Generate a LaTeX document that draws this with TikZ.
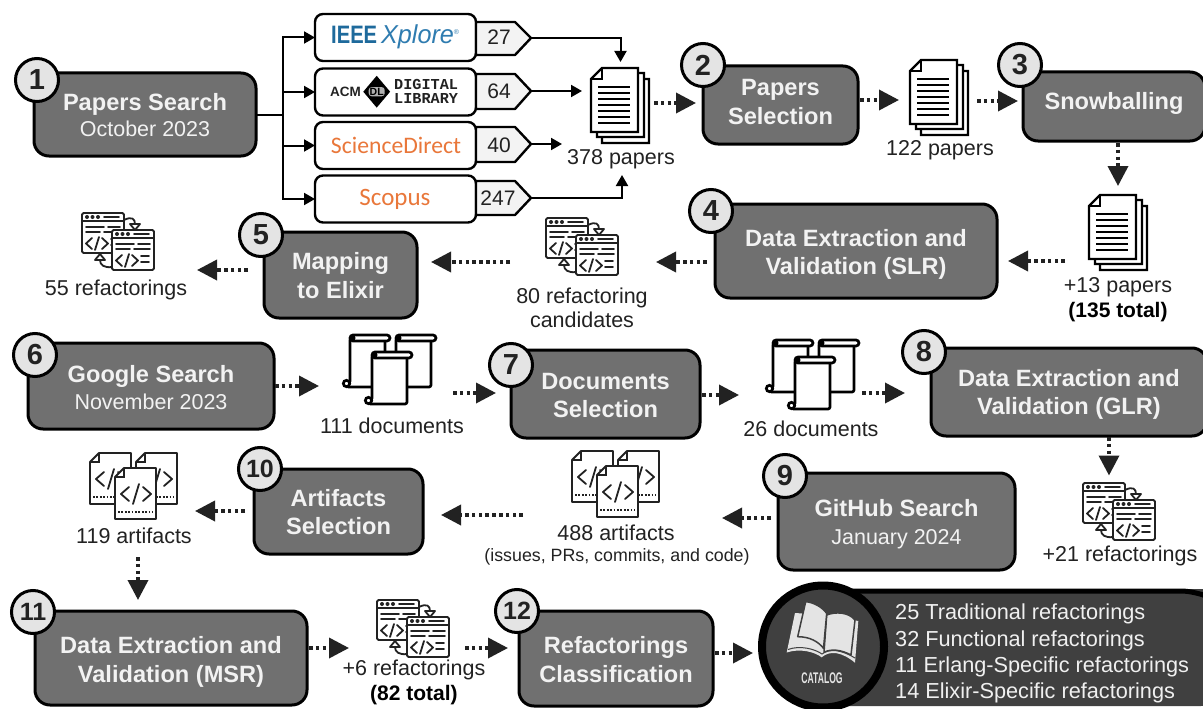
\documentclass[tikz,border=0pt]{standalone}
\usepackage{fontspec}
\usepackage{graphicx}
\setmainfont{Liberation Sans}
\newfontfamily\carlito{Carlito}
\newfontfamily\libmono{Liberation Mono}
\usetikzlibrary{arrows.meta,shapes.geometric,calc}
\definecolor{boxgray}{HTML}{707070}
\definecolor{circgray}{HTML}{E4E4E4}
\definecolor{catdark}{HTML}{404040}
\definecolor{tagfill}{HTML}{F3F3F3}
\definecolor{sciorange}{HTML}{E9773A}
\definecolor{ieeeblue}{HTML}{1E6A9C}
\definecolor{xpblue}{HTML}{2F7CB0}
\definecolor{inkgray}{HTML}{222222}
\newcommand{\fs}[1]{\fontsize{#1}{#1}\selectfont}
\newcommand{\tl}[2]{\raisebox{#1pt}[0pt][0pt]{\begin{tabular}[c]{@{}c@{}}#2\end{tabular}}}
\tikzset{
  x=1pt,y=-1pt,
  stepbox/.style n args={2}{draw=black,line width=3pt,fill=boxgray,rounded corners=15pt,
    minimum width=#1pt,minimum height=#2pt,inner sep=0pt,outer sep=0pt,text=white!95!black,
    align=center,font=\fs{23.6}\bfseries},
  numcirc/.style={circle,draw=black,line width=3pt,fill=circgray,minimum size=43pt,inner sep=0pt,
    font=\fs{29}\bfseries,text=inkgray},
  srcbox/.style={draw=black,line width=2.4pt,fill=white,rounded corners=8pt,minimum width=161pt,
    minimum height=47pt,inner sep=0pt,outer sep=0pt},
  tagshape/.style={draw=black,line width=2.4pt,fill=tagfill,line join=round},
  tagnum/.style={font=\fs{21},text=inkgray,inner sep=0pt},
  lbl/.style={font=\fs{21.5},text=inkgray,inner sep=0pt,align=center},
  lblb/.style={font=\fs{21}\bfseries,text=black,inner sep=0pt,align=center},
  catline/.style={anchor=west,inner sep=0pt,text=white!94!black,font=\fs{21.7}},
  anchorbox/.style n args={2}{minimum width=#1pt,minimum height=#2pt,inner sep=0pt,outer sep=0pt},
  thinarrow/.style={draw=black,line width=2pt,-{Triangle[length=11pt,width=12pt]}},
  dotarrow/.style={draw=inkgray,line width=3.6pt,dash pattern=on 3.6pt off 3.2pt,
    -{Triangle[length=20pt,width=20pt]}},
  iconl/.style={draw=inkgray,line width=1.8pt,line cap=round,line join=round},
  paperstack/.pic={
    \foreach \d/\e in {11/11,6/5,0/0}{
      \path[draw=black,line width=2.3pt,fill=white,line join=miter]
        ($(11,0)+(\d,\e)$) -- ($(47,0)+(\d,\e)$) -- ($(47,64)+(\d,\e)$) -- ($(0,64)+(\d,\e)$) -- ($(0,11)+(\d,\e)$) -- cycle;
    }
    \draw[black,line width=2.3pt] (11,0) -- (11,11) -- (0,11);
    \foreach \yy in {19,25,31,37,43,49,55}{\draw[black,line width=2pt] (7,\yy) -- (39,\yy);}
  },
  codewin/.pic={
    \draw[iconl,fill=white,rounded corners=1.5pt] (0,0) rectangle (42,40);
    \draw[iconl] (0,8) -- (42,8);
    \foreach \q in {5,10.5,16}{\fill[inkgray] (\q,4) circle (2pt);}
    \draw[iconl] (22,4) -- (37,4);
    \draw[iconl] (4,14) -- (22,14) (26,14) -- (38,14) (4,19) -- (18,19) (22,19) -- (38,19);
    \draw[iconl] (10,25) -- (4,30.5) -- (10,36) (17,24) -- (13,37) (20,25) -- (26,30.5) -- (20,36);
    \draw[iconl] (29,26) -- (37,26) (29,32) -- (37,32);
  },
  refactor/.pic={
    \draw[iconl] (42,7) .. controls (50,3) and (53,6) .. (53,11);
    \draw[iconl,fill=white] (48,11) -- (58,11) -- (53,17) -- cycle;
    \pic at (0,0) {codewin};
    \draw[iconl] (30,54) .. controls (22,55) and (18,52) .. (18,47);
    \draw[iconl,fill=white] (13,47) -- (23,47) -- (18,41) -- cycle;
    \pic at (30,17) {codewin};
  },
  scrollone/.pic={
    \path[draw=black,line width=2.7pt,fill=white,line join=round,rounded corners=2pt] (7,3) -- (42,3) -- (42,52) -- (3.5,52) -- (7,48) -- cycle;
    \draw[black,line width=2.7pt,fill=white,rounded corners=3pt] (7,0) rectangle (47,6);
    \fill[black] (9.5,3) circle (3pt);
    \draw[black,line width=2.7pt,fill=white] (3.5,48.5) circle (3.2pt);
  },
  scrolls/.pic={
    \pic at (0,0) {scrollone};
    \pic at (46,0) {scrollone};
    \pic at (22,17) {scrollone};
  },
  codefile/.pic={
    \path[draw=inkgray,line width=1.8pt,fill=white,line join=round] (9,0) -- (41,0) -- (41,51) -- (0,51) -- (0,9) -- cycle;
    \draw[inkgray,line width=1.8pt] (9,0) -- (9,9) -- (0,9);
    \draw[iconl] (14,19) -- (6,26) -- (14,33) (24,16) -- (18,36) (28,19) -- (36,26) -- (28,33);
    \draw[inkgray,line width=1.8pt,dash pattern=on 1.8pt off 1.6pt] (3,44) -- (38,44);
  },
  artifacts/.pic={
    \pic at (0,0) {codefile};
    \pic at (46,0) {codefile};
    \pic at (25,15) {codefile};
  }
}
\begin{document}
\begin{tikzpicture}
\clip (0,0) rectangle (1203,709);
\fill[white] (0,0) rectangle (1203,709);

% ---- catalog
\fill[catdark,rounded corners=14pt] (800,589) rectangle (1215,706);
\draw[black,line width=5pt,rounded corners=14pt] (800,591) -- (1195,591) -- (1215,600);
\node[circle,draw=black,line width=8pt,fill=catdark,minimum size=122pt,inner sep=0pt,outer sep=4pt] (catalog) at (823,646.5) {};
\fill[circgray] (795,613) -- (786.7,652.5) .. controls (800,648) and (815,652) .. (821.7,657.3) .. controls (830,650) and (842,652) .. (855,662.7) -- (858.3,621) -- (825,615) -- cycle;
\path[fill=circgray,draw=catdark,line width=1.5pt,line join=round] (826.7,615) .. controls (835,611.7) and (848.3,611.7) .. (855,620) -- (851,655) .. controls (841.7,650) and (831.7,648.3) .. (824,652.3) -- cycle;
\path[fill=circgray,draw=catdark,line width=1.5pt,line join=round] (805.7,601.7) .. controls (813.3,602.3) and (821.7,606.7) .. (826.7,613.3) -- (823.5,648.3) .. controls (818.3,641.7) and (810,636.7) .. (797.7,636.7) -- cycle;
\draw[catdark,line width=1pt] (788,649.5) .. controls (800,645) and (815,649) .. (822,654) .. controls (830,648) and (842,650) .. (855,658);
\node[inner sep=0pt,text=circgray] (cattext) at (822,678.5) {\scalebox{0.56}[1]{\fs{15.4}\bfseries CATALOG}};
\node[catline] (cat1) at (895,614) {25 Traditional refactorings};
\node[catline] (cat2) at (895,640.5) {32 Functional refactorings};
\node[catline] (cat3) at (895,667) {11 Erlang-Specific refactorings};
\node[catline] (cat4) at (895,692.5) {14 Elixir-Specific refactorings};

% ---- step boxes
\node[stepbox={222}{83}] (s1) at (145,114.5) {\tl{-10.5}{Papers Search\\[2.4pt]\fs{21.5}\mdseries October 2023}};
\node[stepbox={155}{78}] (s2) at (780.5,105) {\tl{-6.5}{Papers\\[4.4pt]Selection}};
\node[stepbox={182}{69}] (s3) at (1114,106.5) {\tl{-4.5}{Snowballing}};
\node[stepbox={282}{94}] (s4) at (856,251) {\tl{-10.5}{Data Extraction and\\[4.4pt]Validation (SLR)}};
\node[stepbox={153}{86}] (s5) at (340.5,275) {\tl{-10}{Mapping\\[4.4pt]to Elixir}};
\node[stepbox={246}{86}] (s6) at (151,386) {\tl{-11.5}{Google Search\\[3.4pt]\fs{21.5}\mdseries November 2023}};
\node[stepbox={189}{88}] (s7) at (605.5,394) {\tl{-11}{Documents\\[4.4pt]Selection}};
\node[stepbox={276}{88}] (s8) at (1069,392) {\tl{-9.5}{Data Extraction and\\[4.4pt]Validation (GLR)}};
\node[stepbox={237}{97}] (s9) at (896.5,521.5) {\tl{-10.5}{GitHub Search\\[4.4pt]\fs{21.5}\mdseries January 2024}};
\node[stepbox={169}{85}] (s10) at (338.5,511.5) {\tl{-10}{Artifacts\\[4.4pt]Selection}};
\node[stepbox={272}{94}] (s11) at (171,658) {\tl{-11}{Data Extraction and\\[4.4pt]Validation (MSR)}};
\node[stepbox={194}{95}] (s12) at (616,658.5) {\tl{-10.5}{Refactorings\\[4.4pt]Classification}};

% ---- numbers
\node[numcirc] (n1) at (37,80) {1};
\node[numcirc] (n2) at (703,65) {2};
\node[numcirc] (n3) at (1020,65) {3};
\node[numcirc] (n4) at (711,211) {4};
\node[numcirc] (n5) at (261,235) {5};
\node[numcirc] (n6) at (35,355) {6};
\node[numcirc] (n7) at (511,365) {7};
\node[numcirc] (n8) at (924,352) {8};
\node[numcirc] (n9) at (785,476) {9};
\node[numcirc,font=\fs{25}\bfseries] (n10) at (260,469) {10};
\node[numcirc,font=\fs{25}\bfseries] (n11) at (33,612) {11};
\node[numcirc,font=\fs{25}\bfseries] (n12) at (517,611) {12};

% ---- sources
\node[srcbox] (ieee) at (395.5,37.5) {};
\node[srcbox] (acm) at (395.5,92) {};
\node[srcbox] (sd) at (395.5,145.5) {};
\node[srcbox] (scopus) at (395.5,199) {};
\node[inner sep=0pt,anchor=west] (ieeetxt) at (331,37) {\color{ieeeblue}\scalebox{0.84}[1.05]{\fs{24}\bfseries IEEE}\hspace{4pt}\color{xpblue}\scalebox{1.05}[1.08]{\fs{24}\itshape Xplore}\raisebox{9pt}{\fs{7}®}};
\node[inner sep=0pt,anchor=west,font=\fs{13.5}\bfseries,text=inkgray] (acmtxt) at (330,91.5) {ACM};
\node[diamond,fill=black,minimum width=27pt,minimum height=32pt,inner sep=0pt] (dl) at (376.7,91.7) {};
\node[inner sep=1pt,fill=boxgray!55,font=\fs{10.5}\bfseries,text=black,rounded corners=3pt] (dltxt) at (376.7,91.7) {DL};
\node[inner sep=0pt,anchor=west,align=left,font=\fs{15.2}\libmono\bfseries,text=inkgray] (dltxt2) at (394,91.5) {DIGITAL\\[-1.5pt]LIBRARY};
\node[inner sep=0pt,font=\fs{23.7}\carlito,text=sciorange] (sdtxt) at (396,145) {ScienceDirect};
\node[inner sep=0pt,font=\fs{25}\carlito,text=sciorange] (scopustxt) at (395,199) {Scopus};

% ---- tags
\coordinate (t1) at (531,38);
\coordinate (t2) at (531,91);
\coordinate (t3) at (531,144);
\coordinate (t4) at (531,198);
\path[tagshape] (476,22) -- (515,22) -- (531,38) -- (515,55) -- (476,55) -- cycle;
\path[tagshape] (476,74) -- (515,74) -- (531,91) -- (515,109) -- (476,109) -- cycle;
\path[tagshape] (476,127) -- (515,127) -- (531,144) -- (515,162) -- (476,162) -- cycle;
\path[tagshape] (476,181) -- (515,181) -- (531,198) -- (515,215) -- (476,215) -- cycle;
\node[tagnum] (c27) at (499,37) {27};
\node[tagnum] (c64) at (499,91) {64};
\node[tagnum] (c40) at (499,145) {40};
\node[tagnum] (c247) at (498,198) {247};

% ---- icons (named anchor nodes over the pics)
\pic at (591,68) {paperstack};
\node[anchorbox={59}{75}] (p378) at (620.5,105.5) {};
\pic at (910,60) {paperstack};
\node[anchorbox={59}{75}] (p122) at (939.5,97.5) {};
\pic at (1089,195) {paperstack};
\node[anchorbox={59}{75}] (p135) at (1118.5,232.5) {};
\pic at (82,213) {refactor};
\node[anchorbox={72}{57}] (r55) at (118,241) {};
\pic at (546,218) {refactor};
\node[anchorbox={72}{57}] (r80) at (582,246) {};
\pic at (1083,483) {refactor};
\node[anchorbox={72}{57}] (r21) at (1119,511) {};
\pic at (377,600) {refactor};
\node[anchorbox={72}{57}] (r82) at (413,628) {};
\pic at (343,335) {scrolls};
\node[anchorbox={94}{70}] (d111) at (390,370) {};
\pic at (766,340) {scrolls};
\node[anchorbox={94}{70}] (d26) at (815,375) {};
\pic at (572,451) {artifacts};
\node[anchorbox={88}{66}] (a488) at (616,484) {};
\pic at (90,453) {artifacts};
\node[anchorbox={88}{66}] (a119) at (134,486) {};

% ---- labels
\node[lbl] (l378) at (621,159) {378 papers};
\node[lbl] (l122) at (940,150) {122 papers};
\node[lbl] (l135) at (1118,287) {+13 papers};
\node[lblb] (l135b) at (1118,312) {(135 total)};
\node[lbl] (l80) at (582,308) {80 refactoring\\[3pt]candidates};
\node[lbl] (l55) at (116,290) {55 refactorings};
\node[lbl] (l111) at (392,426) {111 documents};
\node[lbl] (l26) at (811,429) {26 documents};
\node[lbl] (l21) at (1120,556) {+21 refactorings};
\node[lbl] (l488) at (616,533) {488 artifacts};
\node[lbl,font=\fs{17.8}] (l488b) at (617,557) {(issues, PRs, commits, and code)};
\node[lbl] (l119) at (134,536) {119 artifacts};
\node[lbl] (l82) at (414,670) {+6 refactorings};
\node[lblb] (l82b) at (414,695) {(82 total)};

% ---- solid connectors
\draw[black,line width=2pt] (s1.east |- 0,115) -- (283,115);
\draw[thinarrow] (283,115) |- (ieee.west);
\draw[thinarrow] (283,115) |- (acm.west);
\draw[thinarrow] (283,115) |- (sd.west);
\draw[thinarrow] (283,115) |- (scopus.west);
\draw[thinarrow] (t1) -| ($(p378.north)+(0,-6)$);
\draw[thinarrow] (t2) -- (582,91);
\draw[thinarrow] (t3) -- (562,144);
\draw[thinarrow] (t4) -| (622,175);

% ---- dotted connectors
\draw[dotarrow,shorten <=4pt,shorten >=7pt] (p378.east |- 0,103) -- (s2.west |- 0,103);
\draw[dotarrow,shorten <=2pt,shorten >=11pt] (s2.east |- 0,100) -- (p122.west |- 0,100);
\draw[dotarrow,shorten <=8pt,shorten >=5pt] (p122.east |- 0,101) -- (s3.west |- 0,101);
\draw[dotarrow,shorten <=2pt,shorten >=9pt] (s3.south -| 1118,0) -- (p135.north -| 1118,0);
\draw[dotarrow,shorten <=24pt,shorten >=11pt] (p135.west |- 0,261) -- (s4.east |- 0,261);
\draw[dotarrow,shorten <=8pt,shorten >=38pt] (s4.west |- 0,262) -- (r80.east |- 0,262);
\draw[dotarrow,shorten <=36pt,shorten >=14pt] (r80.west |- 0,262) -- (s5.east |- 0,262);
\draw[dotarrow,shorten <=16pt,shorten >=43pt] (s5.west |- 0,270) -- (r55.east |- 0,270);
\draw[dotarrow,shorten <=1pt,shorten >=24pt] (s6.east |- 0,386) -- (d111.west |- 0,386);
\draw[dotarrow,shorten <=16pt,shorten >=15pt] (d111.east |- 0,393) -- (s7.west |- 0,393);
\draw[dotarrow,shorten <=2pt,shorten >=29pt] (s7.east |- 0,395) -- (d26.west |- 0,395);
\draw[dotarrow,shorten <=0pt,shorten >=26pt] (d26.east |- 0,393) -- (s8.west |- 0,393);
\draw[dotarrow,shorten <=1pt,shorten >=7pt] (s8.south -| 1109,0) -- (r21.north -| 1109,0);
\draw[dotarrow,shorten <=7pt,shorten >=62pt] (s9.west |- 0,518) -- (a488.east |- 0,518);
\draw[dotarrow,shorten <=49pt,shorten >=18pt] (a488.west |- 0,515) -- (s10.east |- 0,515);
\draw[dotarrow,shorten <=9pt,shorten >=17pt] (s10.west |- 0,511) -- (a119.east |- 0,511);
\draw[dotarrow,shorten <=13pt,shorten >=11pt] (l119.south -| 138,0) -- (s11.north -| 138,0);
\draw[dotarrow,shorten <=2pt,shorten >=28pt] (s11.east |- 0,648) -- (r82.west |- 0,648);
\draw[dotarrow,shorten <=16pt,shorten >=11pt] (r82.east |- 0,648) -- (s12.west |- 0,648);
\draw[dotarrow,shorten <=2pt,shorten >=5pt] (s12.east |- 0,653) -- (catalog.west |- 0,653);
\end{tikzpicture}
\end{document}
